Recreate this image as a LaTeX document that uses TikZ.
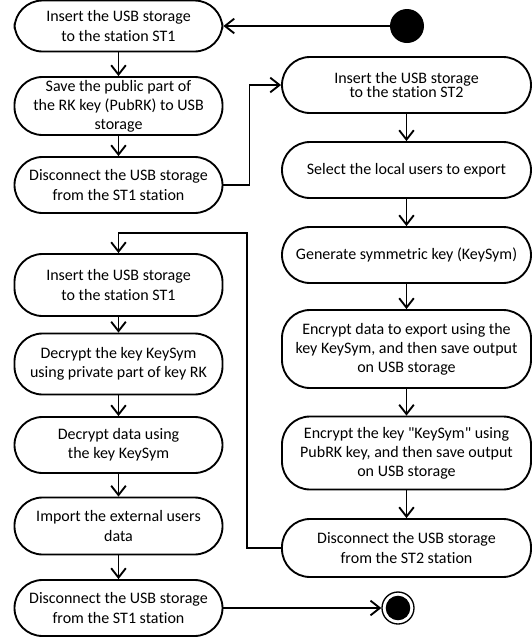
\documentclass[tikz,border=0pt]{standalone}
\usepackage{fontspec}
\setmainfont{Carlito}[Ligatures=NoCommon]
\usetikzlibrary{arrows.meta}
% straight double quote, set as a glyph so no text mapping curls it
\newcommand\sq{\XeTeXglyph\XeTeXcharglyph34\relax}
\begin{document}
\begin{tikzpicture}[x=0.75pt,y=-0.75pt,
  action/.style={draw, line width=1.4pt, rounded corners=21pt, align=center,
    inner sep=0pt, font=\fontsize{12}{14.3}\selectfont},
  leftcol/.style={action, minimum width=156pt},
  rightcol/.style={action, minimum width=186.75pt},
  flow/.style={line width=1.4pt,
    -{Straight Barb[length=7pt,width=11pt,line width=1.4pt]}},
  startnode/.style={circle, fill=black, inner sep=0pt, minimum size=25.5pt},
  endnode/.style={circle, draw, line width=1pt, inner sep=0pt, minimum size=24pt,
    path picture={\fill (path picture bounding box.center) circle (9.2pt);}}
]
\useasboundingbox (0,0) rectangle (532,637);

% left column
\node[leftcol, minimum height=38.25pt] (L1) at (118.5,26) {Insert the USB storage\\to the station ST1};
\node[leftcol, minimum height=43.5pt]  (L2) at (118.5,106) {Save the public part of\\the RK key (PubRK) to USB\\storage};
\node[leftcol, minimum height=42pt]    (L3) at (118.5,185) {Disconnect the USB storage\\from the ST1 station};
\node[leftcol, minimum height=46.5pt]  (L4) at (118.5,285) {Insert the USB storage\\to the station ST1};
\node[leftcol, minimum height=45.75pt] (L5) at (118.5,364) {Decrypt the key KeySym\\using private part of key RK};
\node[leftcol, minimum height=42pt]    (L6) at (118.5,445) {Decrypt data using\\the key KeySym};
\node[leftcol, minimum height=42.75pt] (L7) at (118.5,526) {Import the external users\\data};
\node[leftcol, minimum height=42pt]    (L8) at (118.5,608) {Disconnect the USB storage\\from the ST1 station};

% right column
\node[rightcol, minimum height=42pt]    (R1) at (406.5,85) {Insert the USB storage\\[-3.5pt]to the station ST2};
\node[rightcol, minimum height=42pt]    (R2) at (406.5,170) {Select the local users to export};
\node[rightcol, minimum height=42pt]    (R3) at (406.5,255) {Generate symmetric key (KeySym)};
\node[rightcol, minimum height=58.5pt]  (R4) at (406.5,349) {Encrypt data to export using the\\key KeySym, and then save output\\on USB storage};
\node[rightcol, minimum height=54.75pt] (R5) at (406.5,453) {Encrypt the key \sq KeySym\sq{} using\\PubRK key, and then save output\\on USB storage};
\node[rightcol, minimum height=43.5pt]  (R6) at (406.5,548) {Disconnect the USB storage\\from the ST2 station};

% initial and final states
\node[startnode] (start) at (407,26) {};
\node[endnode] (stop) at (398,608) {};

\coordinate (loop) at (247,233);

% flows
\draw[flow] (start) -- (L1);
\draw[flow] (L1) -- (L2);
\draw[flow] (L2) -- (L3);
\draw[flow] (L3.east) -- ++(26,0) |- (R1.west);
\draw[flow] (R1) -- (R2);
\draw[flow] (R2) -- (R3);
\draw[flow] (R3) -- (R4);
\draw[flow] (R4) -- (R5);
\draw[flow] (R5) -- (R6);
\draw[flow] (R6.west) -| (loop) -| (L4.north);
\draw[flow] (L4) -- (L5);
\draw[flow] (L5) -- (L6);
\draw[flow] (L6) -- (L7);
\draw[flow] (L7) -- (L8);
\draw[flow] (L8) -- (stop);
\end{tikzpicture}
\end{document}
